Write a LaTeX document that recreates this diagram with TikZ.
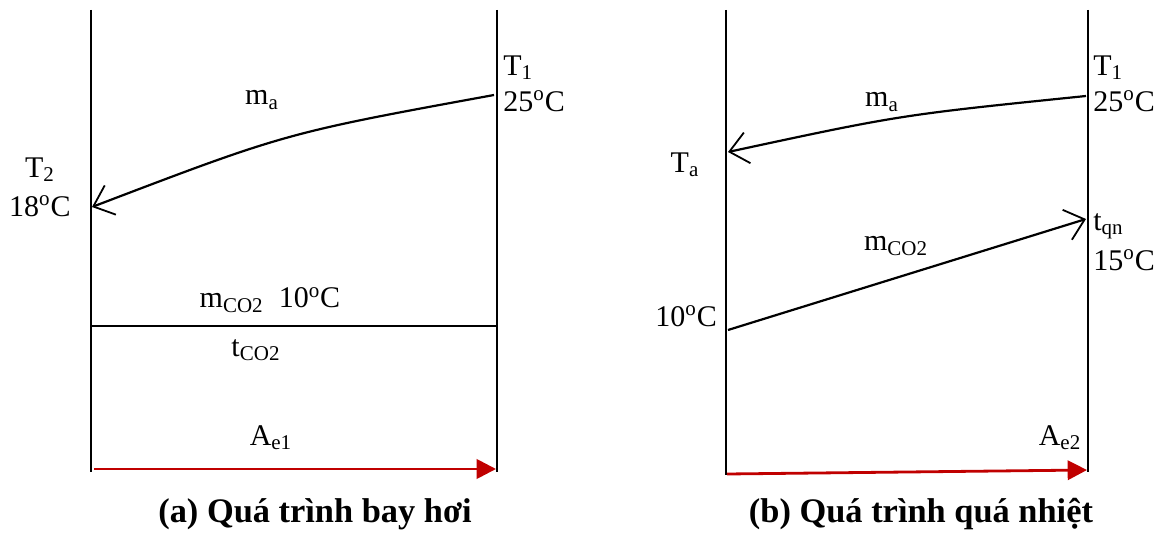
\documentclass[tikz,border=0pt]{standalone}
\usepackage{fontspec}
\setmainfont{Liberation Serif}
\usepackage{tikz}
\usetikzlibrary{arrows.meta,positioning}
\definecolor{darkred}{RGB}{192,0,0}
\tikzset{
  wall/.style={line width=1.1pt},
  flow/.style={-{Straight Barb[length=3.2mm,width=5.5mm,line width=0.9pt]}, line width=1.1pt},
  areaflow/.style={-{Triangle[length=3.4mm,width=3.4mm]}, line width=1.4pt, draw=darkred},
  lbl/.style={inner sep=1pt, font=\fontsize{15}{17}\selectfont},
  caption/.style={inner sep=1pt, anchor=base, font=\fontsize{17.2}{20}\selectfont\bfseries}
}
\newcommand{\degc}[1]{#1\textsuperscript{o}C}
\begin{document}
\begin{tikzpicture}[x=0.5pt, y=-0.5pt]
\useasboundingbox (0,0) rectangle (1168,534);

% (a) evaporation
\coordinate (aLtop) at (91,10);
\coordinate (aLbot) at (91,472);
\coordinate (aRtop) at (497,10);
\coordinate (aRbot) at (497,472);
\draw[wall] (aLtop) -- (aLbot);
\draw[wall] (aRtop) -- (aRbot);

\coordinate (aHin) at (494,95);
\coordinate (aHout) at (92,207);
\draw[flow] (aHin) .. controls (286,133) .. (aHout);

\coordinate (aCl) at (91,326);
\coordinate (aCr) at (497,326);
\draw[wall] (aCl) -- (aCr);

\coordinate (aAs) at (94,469);
\coordinate (aAe) at (496,469);
\draw[areaflow] (aAs) -- (aAe);

\node[lbl] (ma1) at (262,100) {m\textsubscript{a}};
\node[lbl, anchor=west] (T1a) at (501,68) {T\textsubscript{1}};
\node[lbl, anchor=west] (t25a) at (501,101) {\degc{25}};
\node[lbl] (T2) at (40,170) {T\textsubscript{2}};
\node[lbl] (t18) at (40,206) {\degc{18}};
\node[lbl] (mco2a) at (270,300) {m\textsubscript{CO2}\ \ \degc{10}};
\node[lbl] (tco2) at (256,350) {t\textsubscript{CO2}};
\node[lbl] (Ae1) at (271,438) {A\textsubscript{e1}};
\node[caption] (capa) at (315,522) {(a) Quá trình bay hơi};

% (b) superheating
\coordinate (bLtop) at (726,10);
\coordinate (bLbot) at (726,475);
\coordinate (bRtop) at (1088,10);
\coordinate (bRbot) at (1088,472);
\draw[wall] (bLtop) -- (bLbot);
\draw[wall] (bRtop) -- (bRbot);

\coordinate (bHin) at (1086,96);
\coordinate (bHout) at (728,152);
\draw[flow] (bHin) .. controls (900,115) .. (bHout);

\coordinate (bCin) at (728,330);
\coordinate (bCout) at (1086,219);
\draw[flow] (bCin) -- (bCout);

\coordinate (bAs) at (727,474);
\coordinate (bAe) at (1087,470);
\draw[areaflow] (bAs) -- (bAe);

\node[lbl] (ma2) at (882,102) {m\textsubscript{a}};
\node[lbl] (Ta) at (685,165) {T\textsubscript{a}};
\node[lbl, anchor=west] (T1b) at (1091,68) {T\textsubscript{1}};
\node[lbl, anchor=west] (t25b) at (1091,101) {\degc{25}};
\node[lbl, anchor=west] (tqn) at (1091,226) {t\textsubscript{qn}};
\node[lbl, anchor=west] (t15) at (1091,260) {\degc{15}};
\node[lbl] (mco2b) at (896,246) {m\textsubscript{CO2}};
\node[lbl] (t10b) at (686,316) {\degc{10}};
\node[lbl] (Ae2) at (1060,438) {A\textsubscript{e2}};
\node[caption] (capb) at (921,522) {(b) Quá trình quá nhiệt};
\end{tikzpicture}
\end{document}
